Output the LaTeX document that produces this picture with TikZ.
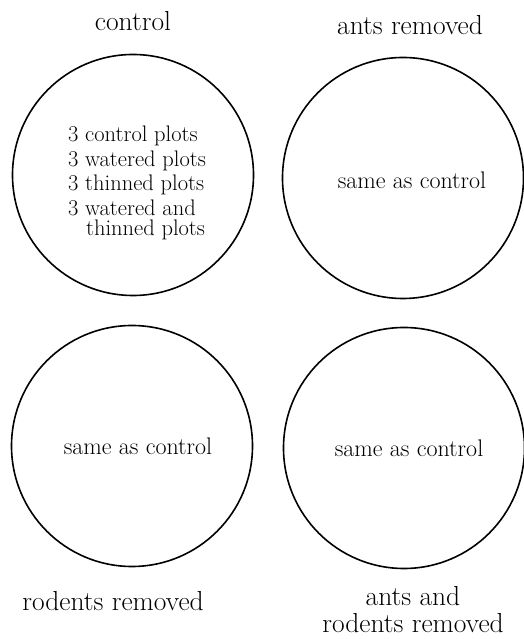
\documentclass[tikz,border=0pt]{standalone}
\usepackage{fontspec}
\usepackage{tikz}
\usetikzlibrary{positioning}

\begin{document}
\begin{tikzpicture}[
    x=1pt, y=1pt,
    plotring/.style={
        circle,
        draw,
        line width=1.6pt,
        minimum size=241pt,
        inner sep=0pt
    },
    note/.style={
        inner sep=0pt,
        align=left,
        font=\fontsize{22.5}{24.5}\selectfont
    },
    treat/.style={
        inner sep=0pt,
        align=center,
        font=\fontsize{27.5}{27}\selectfont
    }
]
\useasboundingbox (0,0) rectangle (523,639);

% the four treatment areas
\node[plotring] (ctl) at (133,464) {};
\node[plotring] (ants) at (403,461) {};
\node[plotring] (rod) at (132,193) {};
\node[plotring] (both) at (404,191) {};

% what is in each area
\node[note, xshift=4pt, yshift=-8pt] (ctlnote) at (ctl.center) {%
    3 control plots\\
    3 watered plots\\
    3 thinned plots\\
    3 watered and\\[-4pt]
    \hspace{18pt}thinned plots};
\node[note, xshift=9pt, yshift=-2pt, font=\fontsize{24}{24}\selectfont] (antsnote) at (ants.center) {same as control};
\node[note, xshift=6pt, font=\fontsize{24}{24}\selectfont] (rodnote) at (rod.center) {same as control};
\node[note, xshift=5pt, font=\fontsize{24}{24}\selectfont] (bothnote) at (both.center) {same as control};

% treatment names
\node[treat, above=23pt of ctl] (ctllbl) {control};
\node[treat, above=22pt of ants, xshift=7pt] (antslbl) {ants removed};
\node[treat, below=24pt of rod, xshift=-19pt] (rodlbl) {rodents removed};
\node[treat, below=17pt of both, xshift=9pt] (bothlbl) {ants and\\rodents removed};

\end{tikzpicture}
\end{document}
